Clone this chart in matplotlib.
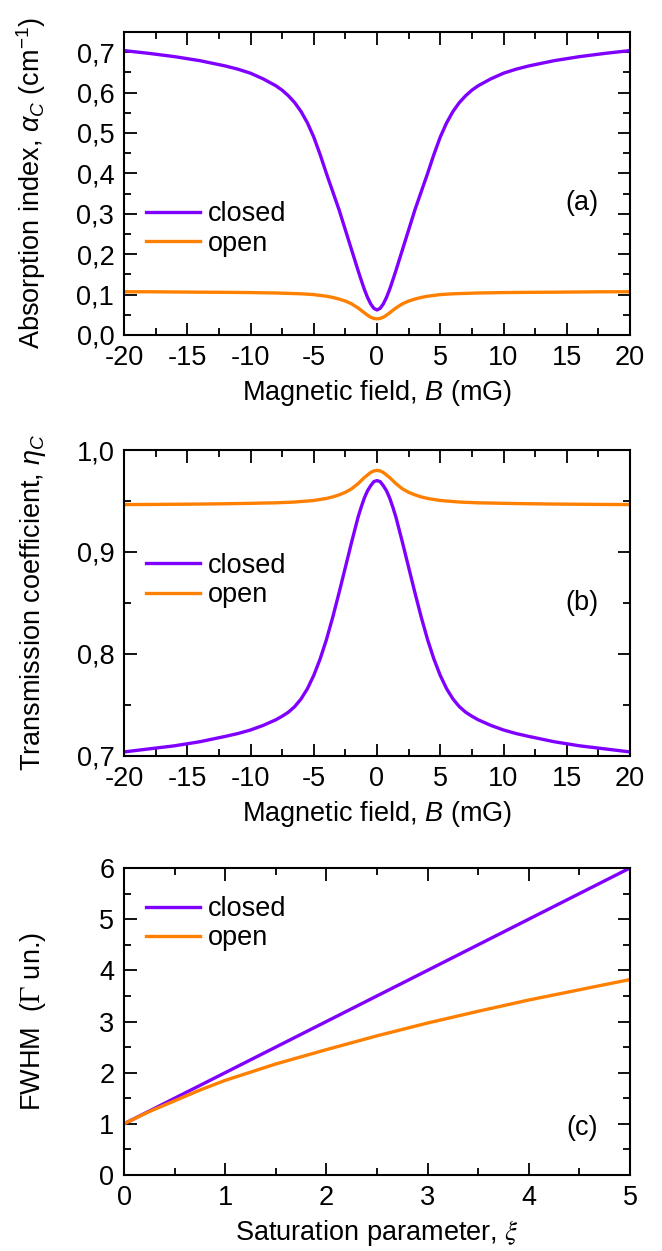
import numpy as np
import matplotlib
matplotlib.use('Agg')
import matplotlib.pyplot as plt
from matplotlib.ticker import MultipleLocator, FuncFormatter

plt.rcParams['font.family'] = ['Liberation Sans', 'DejaVu Sans']
plt.rcParams['mathtext.fontset'] = 'custom'
plt.rcParams['mathtext.rm'] = 'Liberation Sans'
plt.rcParams['mathtext.it'] = 'Liberation Sans:italic'
plt.rcParams['axes.unicode_minus'] = False

FS = 19.5
UNGU = '#8000ff'
ORANYE = '#ff8000'

# medan magnet B >= 0 (mG), kurva simetris
B_half = [0, 0.25, 0.5, 0.75, 1, 1.25, 1.5, 1.75, 2, 2.5, 3, 3.5, 4, 4.5, 5, 5.5,
          6, 6.5, 7, 7.5, 8, 9, 10, 11, 12, 14, 16, 18, 20]

# (a) indeks absorpsi
alpha_closed = [0.062, 0.066, 0.077, 0.093, 0.113, 0.136, 0.160, 0.185, 0.21, 0.26,
                0.31, 0.355, 0.40, 0.447, 0.49, 0.525, 0.553, 0.575, 0.592, 0.606,
                0.617, 0.634, 0.648, 0.658, 0.666, 0.679, 0.689, 0.697, 0.704]
alpha_open = [0.040, 0.041, 0.044, 0.049, 0.055, 0.061, 0.067, 0.072, 0.077, 0.084,
              0.089, 0.093, 0.096, 0.098, 0.100, 0.101, 0.102, 0.1025, 0.103, 0.1035,
              0.104, 0.1045, 0.105, 0.1053, 0.1056, 0.106, 0.1065, 0.107, 0.107]

# (b) koefisien transmisi
eta_closed = [0.970, 0.969, 0.965, 0.960, 0.953, 0.944, 0.934, 0.922, 0.910, 0.885,
              0.860, 0.836, 0.814, 0.795, 0.779, 0.766, 0.756, 0.7485, 0.743, 0.739,
              0.7355, 0.730, 0.7255, 0.722, 0.7192, 0.714, 0.710, 0.707, 0.704]
eta_open = [0.980, 0.9795, 0.978, 0.9755, 0.973, 0.970, 0.967, 0.9645, 0.962, 0.9585,
            0.956, 0.954, 0.9525, 0.9515, 0.9505, 0.950, 0.9495, 0.949, 0.9487, 0.9485,
            0.9482, 0.948, 0.9477, 0.9475, 0.9473, 0.947, 0.9468, 0.9466, 0.9465]

# (c) FWHM vs parameter saturasi
xi = [0, 0.25, 0.5, 0.75, 1, 1.5, 2, 2.5, 3, 3.5, 4, 4.5, 5]
fwhm_closed = [1.0, 1.25, 1.5, 1.75, 2.0, 2.5, 3.0, 3.5, 4.0, 4.5, 5.0, 5.5, 6.0]
fwhm_open = [1.0, 1.24, 1.45, 1.66, 1.85, 2.17, 2.45, 2.72, 2.97, 3.20, 3.42, 3.62, 3.82]


def mirror(h):
    h = np.asarray(h)
    return np.concatenate([h[:0:-1], h])


B = np.concatenate([-np.asarray(B_half)[:0:-1], np.asarray(B_half)])

koma = FuncFormatter(lambda v, p: f'{v:.1f}'.replace('.', ','))

fig = plt.figure(figsize=(6.62, 12.51), dpi=100)
L, W = 124 / 662, 506 / 662
ax_a = fig.add_axes([L, 1 - 335 / 1251, W, 303 / 1251])
ax_b = fig.add_axes([L, 1 - 756 / 1251, W, 306 / 1251])
ax_c = fig.add_axes([L, 1 - 1175 / 1251, W, 307 / 1251])


def gaya(ax):
    ax.tick_params(which='both', direction='in', top=True, right=True,
                   labelsize=FS, width=1.3, pad=7)
    ax.tick_params(which='major', length=9)
    ax.tick_params(which='minor', length=5)
    for s in ax.spines.values():
        s.set_linewidth(1.5)


ax_a.plot(B, mirror(alpha_closed), color=UNGU, lw=2.4, label='closed')
ax_a.plot(B, mirror(alpha_open), color=ORANYE, lw=2.4, label='open')
ax_a.set_xlim(-20, 20)
ax_a.set_ylim(0, 0.75)
ax_a.xaxis.set_major_locator(MultipleLocator(5))
ax_a.xaxis.set_minor_locator(MultipleLocator(2.5))
ax_a.yaxis.set_major_locator(MultipleLocator(0.1))
ax_a.yaxis.set_minor_locator(MultipleLocator(0.05))
ax_a.yaxis.set_major_formatter(koma)
ax_a.set_xlabel(r'Magnetic field, $B$ (mG)', fontsize=FS, labelpad=5)
ax_a.set_ylabel(r'Absorption index, $\alpha_C$ (cm$^{-1}$)', fontsize=FS)
ax_a.text(0.905, 0.436, '(a)', transform=ax_a.transAxes, fontsize=FS, ha='center', va='center')
gaya(ax_a)

ax_b.plot(B, mirror(eta_closed), color=UNGU, lw=2.4, label='closed')
ax_b.plot(B, mirror(eta_open), color=ORANYE, lw=2.4, label='open')
ax_b.set_xlim(-20, 20)
ax_b.set_ylim(0.7, 1.0)
ax_b.xaxis.set_major_locator(MultipleLocator(5))
ax_b.xaxis.set_minor_locator(MultipleLocator(2.5))
ax_b.yaxis.set_major_locator(MultipleLocator(0.1))
ax_b.yaxis.set_minor_locator(MultipleLocator(0.05))
ax_b.yaxis.set_major_formatter(koma)
ax_b.set_xlabel(r'Magnetic field, $B$ (mG)', fontsize=FS, labelpad=5)
ax_b.set_ylabel(r'Transmission coefficient, $\eta_C$', fontsize=FS)
ax_b.text(0.905, 0.5, '(b)', transform=ax_b.transAxes, fontsize=FS, ha='center', va='center')
gaya(ax_b)

ax_c.plot(xi, fwhm_closed, color=UNGU, lw=2.4, label='closed')
ax_c.plot(xi, fwhm_open, color=ORANYE, lw=2.4, label='open')
ax_c.set_xlim(0, 5)
ax_c.set_ylim(0, 6)
ax_c.xaxis.set_major_locator(MultipleLocator(1))
ax_c.xaxis.set_minor_locator(MultipleLocator(0.5))
ax_c.yaxis.set_major_locator(MultipleLocator(1))
ax_c.yaxis.set_minor_locator(MultipleLocator(0.5))
ax_c.set_xlabel(r'Saturation parameter, $\xi$', fontsize=FS, labelpad=5,
                math_fontfamily='stix')
ax_c.set_ylabel(r'FWHM  ($\Gamma$ un.)', fontsize=FS, math_fontfamily='stix')
ax_c.text(0.905, 0.153, '(c)', transform=ax_c.transAxes, fontsize=FS, ha='center', va='center')
gaya(ax_c)

for ax, yl in [(ax_a, 0.35), (ax_b, 0.574), (ax_c, 0.818)]:
    ax.legend(loc='center left', bbox_to_anchor=(0.0435, yl), frameon=False,
              fontsize=FS, borderpad=0, borderaxespad=0, handlelength=2.0,
              handletextpad=0.3, labelspacing=0.12)
    ax.yaxis.set_label_coords(-0.15, 0.5)

fig.savefig('out.png', dpi=100)
